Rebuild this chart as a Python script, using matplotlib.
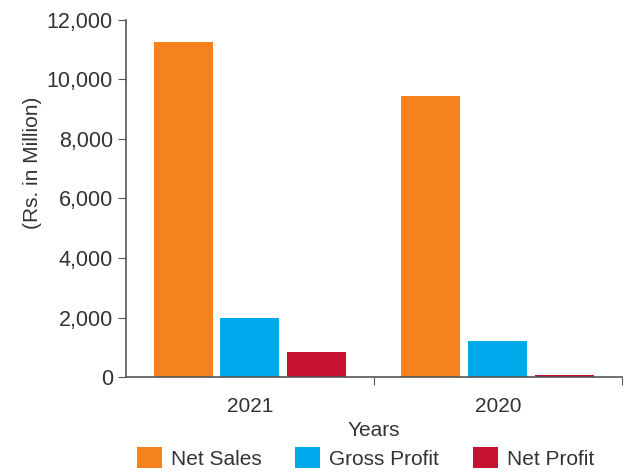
import numpy as np
import matplotlib
matplotlib.use("Agg")
import matplotlib.pyplot as plt
from matplotlib.ticker import FuncFormatter

years = ["2021", "2020"]
net_sales = [11270, 9450]
gross_profit = [1990, 1200]
net_profit = [850, 60]

series = [
    ("Net Sales", net_sales, "#f5821f"),
    ("Gross Profit", gross_profit, "#00a9ec"),
    ("Net Profit", net_profit, "#c41230"),
]

plt.rcParams["font.family"] = ["Liberation Sans", "DejaVu Sans"]

fig = plt.figure(figsize=(6.3, 4.72), dpi=100)
ax = fig.add_axes([0.2, 0.201, 0.787, 0.757])

x = np.arange(len(years)) + 0.5
width = 0.238
offsets = [-0.27, 0.0, 0.27]
for (name, vals, color), off in zip(series, offsets):
    ax.bar(x + off, vals, width, color=color, label=name)

ax.set_xlim(0, 2)
ax.set_ylim(0, 12000)
ax.set_yticks(range(0, 12001, 2000))
ax.yaxis.set_major_formatter(FuncFormatter(lambda v, p: f"{int(v):,}"))

# boundary ticks on the x-axis, labels centred in each group
ax.set_xticks([1, 2])
ax.set_xticklabels([])
ax.set_xticks(x, minor=True)
ax.set_xticklabels(years, minor=True)
ax.tick_params(axis="x", which="minor", length=0, pad=14, labelsize=15, colors="#333333")
ax.tick_params(axis="x", which="major", length=6, color="#555555")
ax.tick_params(axis="y", length=6, labelsize=15.5, colors="#333333", color="#555555")

for s in ("top", "right"):
    ax.spines[s].set_visible(False)
for s in ("left", "bottom"):
    ax.spines[s].set_color("#555555")
    ax.spines[s].set_linewidth(1.2)

ax.set_ylabel("(Rs. in Million)", fontsize=15, color="#333333", labelpad=6)
ax.yaxis.set_label_coords(-0.17, 0.6)
ax.set_xlabel("Years", fontsize=15, color="#333333", labelpad=4)

fig.legend(loc="center", bbox_to_anchor=(0.58, 0.03), bbox_transform=fig.transFigure,
           ncol=3, frameon=False, fontsize=15, handlelength=1.2, handleheight=1.2,
           columnspacing=1.6, handletextpad=0.45, labelcolor="#333333",
           borderpad=0.1)

fig.savefig("out.png", dpi=100, facecolor="white")
